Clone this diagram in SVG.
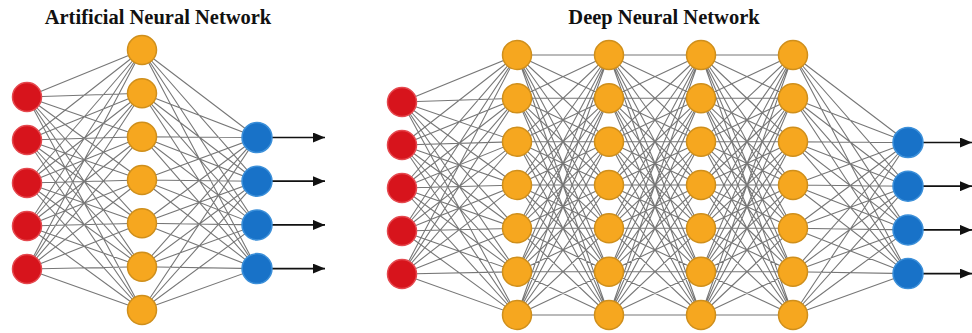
<svg xmlns="http://www.w3.org/2000/svg" xmlns:xlink="http://www.w3.org/1999/xlink" width="972" height="333" viewBox="0 0 972 333">
  <style>
    .title { font-family: "Liberation Serif", "Times New Roman", serif; font-weight: bold; font-size: 20.5px; fill: #111111; text-anchor: middle; }
    .edges { fill: none; stroke: #777777; stroke-width: 1.1; }
    .out { stroke: #111111; stroke-width: 1.7; marker-end: url(#arrow); }
    .in { fill: #d7141c; stroke: #e5484e; stroke-width: 1.5; }
    .hid { fill: #f6a71f; stroke: #cf8f1c; stroke-width: 1.5; }
    .res { fill: #1872c8; stroke: #3b8fd9; stroke-width: 1.5; }
  </style>
  <defs>
    <marker id="arrow" markerUnits="userSpaceOnUse" markerWidth="12" markerHeight="10" refX="12" refY="5" orient="auto">
      <path d="M0 0L12 5L0 10z" fill="#111"/>
    </marker>
    <!-- 5 input nodes to a column of 7 (input column at x=0, hidden column at x=115) -->
    <path id="fanIn" d="M0 47L115 0M0 47L115 43.3M0 47L115 86.7M0 47L115 130M0 47L115 173.3M0 47L115 216.7M0 47L115 260
      M0 90L115 0M0 90L115 43.3M0 90L115 86.7M0 90L115 130M0 90L115 173.3M0 90L115 216.7M0 90L115 260
      M0 133L115 0M0 133L115 43.3M0 133L115 86.7M0 133L115 130M0 133L115 173.3M0 133L115 216.7M0 133L115 260
      M0 176L115 0M0 176L115 43.3M0 176L115 86.7M0 176L115 130M0 176L115 173.3M0 176L115 216.7M0 176L115 260
      M0 219L115 0M0 219L115 43.3M0 219L115 86.7M0 219L115 130M0 219L115 173.3M0 219L115 216.7M0 219L115 260"/>
    <!-- fully connected 7 to 7 between neighbouring hidden columns -->
    <path id="mesh" d="M0 0L92 0M0 0L92 43.3M0 0L92 86.7M0 0L92 130M0 0L92 173.3M0 0L92 216.7M0 0L92 260
      M0 43.3L92 0M0 43.3L92 43.3M0 43.3L92 86.7M0 43.3L92 130M0 43.3L92 173.3M0 43.3L92 216.7M0 43.3L92 260
      M0 86.7L92 0M0 86.7L92 43.3M0 86.7L92 86.7M0 86.7L92 130M0 86.7L92 173.3M0 86.7L92 216.7M0 86.7L92 260
      M0 130L92 0M0 130L92 43.3M0 130L92 86.7M0 130L92 130M0 130L92 173.3M0 130L92 216.7M0 130L92 260
      M0 173.3L92 0M0 173.3L92 43.3M0 173.3L92 86.7M0 173.3L92 130M0 173.3L92 173.3M0 173.3L92 216.7M0 173.3L92 260
      M0 216.7L92 0M0 216.7L92 43.3M0 216.7L92 86.7M0 216.7L92 130M0 216.7L92 173.3M0 216.7L92 216.7M0 216.7L92 260
      M0 260L92 0M0 260L92 43.3M0 260L92 86.7M0 260L92 130M0 260L92 173.3M0 260L92 216.7M0 260L92 260"/>
    <!-- column of 7 to the 4 output nodes -->
    <path id="fanOut" d="M0 0L115 87.5M0 0L115 131.2M0 0L115 174.9M0 0L115 218.6
      M0 43.3L115 87.5M0 43.3L115 131.2M0 43.3L115 174.9M0 43.3L115 218.6
      M0 86.7L115 87.5M0 86.7L115 131.2M0 86.7L115 174.9M0 86.7L115 218.6
      M0 130L115 87.5M0 130L115 131.2M0 130L115 174.9M0 130L115 218.6
      M0 173.3L115 87.5M0 173.3L115 131.2M0 173.3L115 174.9M0 173.3L115 218.6
      M0 216.7L115 87.5M0 216.7L115 131.2M0 216.7L115 174.9M0 216.7L115 218.6
      M0 260L115 87.5M0 260L115 131.2M0 260L115 174.9M0 260L115 218.6"/>
  </defs>

  <rect width="972" height="333" fill="#ffffff"/>

  <text class="title" x="158" y="24">Artificial Neural Network</text>
  <text class="title" x="664" y="24">Deep Neural Network</text>

  <g id="connectors">
    <g class="edges">
      <use href="#fanIn" xlink:href="#fanIn" transform="translate(27,50)"/>
      <use href="#fanOut" xlink:href="#fanOut" transform="translate(142,50)"/>
      <use href="#fanIn" xlink:href="#fanIn" transform="translate(402,55)"/>
      <use href="#mesh" xlink:href="#mesh" transform="translate(517,55)"/>
      <use href="#mesh" xlink:href="#mesh" transform="translate(609,55)"/>
      <use href="#mesh" xlink:href="#mesh" transform="translate(701,55)"/>
      <use href="#fanOut" xlink:href="#fanOut" transform="translate(793,55)"/>
    </g>
    <g id="outputs">
      <line class="out" x1="272" y1="137.5" x2="325" y2="137.5"/>
      <line class="out" x1="272" y1="181.2" x2="325" y2="181.2"/>
      <line class="out" x1="272" y1="224.9" x2="325" y2="224.9"/>
      <line class="out" x1="272" y1="268.6" x2="325" y2="268.6"/>
      <line class="out" x1="923" y1="142.5" x2="972" y2="142.5"/>
      <line class="out" x1="923" y1="186.2" x2="972" y2="186.2"/>
      <line class="out" x1="923" y1="229.9" x2="972" y2="229.9"/>
      <line class="out" x1="923" y1="273.6" x2="972" y2="273.6"/>
    </g>
  </g>

  <!-- shallow network -->
  <g id="ann-in-1"><circle class="in" cx="27" cy="97" r="14.5"/></g>
  <g id="ann-in-2"><circle class="in" cx="27" cy="140" r="14.5"/></g>
  <g id="ann-in-3"><circle class="in" cx="27" cy="183" r="14.5"/></g>
  <g id="ann-in-4"><circle class="in" cx="27" cy="226" r="14.5"/></g>
  <g id="ann-in-5"><circle class="in" cx="27" cy="269" r="14.5"/></g>

  <g id="ann-h-1"><circle class="hid" cx="142" cy="50" r="14.5"/></g>
  <g id="ann-h-2"><circle class="hid" cx="142" cy="93.3" r="14.5"/></g>
  <g id="ann-h-3"><circle class="hid" cx="142" cy="136.7" r="14.5"/></g>
  <g id="ann-h-4"><circle class="hid" cx="142" cy="180" r="14.5"/></g>
  <g id="ann-h-5"><circle class="hid" cx="142" cy="223.3" r="14.5"/></g>
  <g id="ann-h-6"><circle class="hid" cx="142" cy="266.7" r="14.5"/></g>
  <g id="ann-h-7"><circle class="hid" cx="142" cy="310" r="14.5"/></g>

  <g id="ann-out-1"><circle class="res" cx="257" cy="137.5" r="15"/></g>
  <g id="ann-out-2"><circle class="res" cx="257" cy="181.2" r="15"/></g>
  <g id="ann-out-3"><circle class="res" cx="257" cy="224.9" r="15"/></g>
  <g id="ann-out-4"><circle class="res" cx="257" cy="268.6" r="15"/></g>

  <!-- deep network -->
  <g id="dnn-in-1"><circle class="in" cx="402" cy="102" r="14.5"/></g>
  <g id="dnn-in-2"><circle class="in" cx="402" cy="145" r="14.5"/></g>
  <g id="dnn-in-3"><circle class="in" cx="402" cy="188" r="14.5"/></g>
  <g id="dnn-in-4"><circle class="in" cx="402" cy="231" r="14.5"/></g>
  <g id="dnn-in-5"><circle class="in" cx="402" cy="274" r="14.5"/></g>

  <g id="dnn-h1-1"><circle class="hid" cx="517" cy="55" r="14.5"/></g>
  <g id="dnn-h1-2"><circle class="hid" cx="517" cy="98.3" r="14.5"/></g>
  <g id="dnn-h1-3"><circle class="hid" cx="517" cy="141.7" r="14.5"/></g>
  <g id="dnn-h1-4"><circle class="hid" cx="517" cy="185" r="14.5"/></g>
  <g id="dnn-h1-5"><circle class="hid" cx="517" cy="228.3" r="14.5"/></g>
  <g id="dnn-h1-6"><circle class="hid" cx="517" cy="271.7" r="14.5"/></g>
  <g id="dnn-h1-7"><circle class="hid" cx="517" cy="315" r="14.5"/></g>

  <g id="dnn-h2-1"><circle class="hid" cx="609" cy="55" r="14.5"/></g>
  <g id="dnn-h2-2"><circle class="hid" cx="609" cy="98.3" r="14.5"/></g>
  <g id="dnn-h2-3"><circle class="hid" cx="609" cy="141.7" r="14.5"/></g>
  <g id="dnn-h2-4"><circle class="hid" cx="609" cy="185" r="14.5"/></g>
  <g id="dnn-h2-5"><circle class="hid" cx="609" cy="228.3" r="14.5"/></g>
  <g id="dnn-h2-6"><circle class="hid" cx="609" cy="271.7" r="14.5"/></g>
  <g id="dnn-h2-7"><circle class="hid" cx="609" cy="315" r="14.5"/></g>

  <g id="dnn-h3-1"><circle class="hid" cx="701" cy="55" r="14.5"/></g>
  <g id="dnn-h3-2"><circle class="hid" cx="701" cy="98.3" r="14.5"/></g>
  <g id="dnn-h3-3"><circle class="hid" cx="701" cy="141.7" r="14.5"/></g>
  <g id="dnn-h3-4"><circle class="hid" cx="701" cy="185" r="14.5"/></g>
  <g id="dnn-h3-5"><circle class="hid" cx="701" cy="228.3" r="14.5"/></g>
  <g id="dnn-h3-6"><circle class="hid" cx="701" cy="271.7" r="14.5"/></g>
  <g id="dnn-h3-7"><circle class="hid" cx="701" cy="315" r="14.5"/></g>

  <g id="dnn-h4-1"><circle class="hid" cx="793" cy="55" r="14.5"/></g>
  <g id="dnn-h4-2"><circle class="hid" cx="793" cy="98.3" r="14.5"/></g>
  <g id="dnn-h4-3"><circle class="hid" cx="793" cy="141.7" r="14.5"/></g>
  <g id="dnn-h4-4"><circle class="hid" cx="793" cy="185" r="14.5"/></g>
  <g id="dnn-h4-5"><circle class="hid" cx="793" cy="228.3" r="14.5"/></g>
  <g id="dnn-h4-6"><circle class="hid" cx="793" cy="271.7" r="14.5"/></g>
  <g id="dnn-h4-7"><circle class="hid" cx="793" cy="315" r="14.5"/></g>

  <g id="dnn-out-1"><circle class="res" cx="908" cy="142.5" r="15"/></g>
  <g id="dnn-out-2"><circle class="res" cx="908" cy="186.2" r="15"/></g>
  <g id="dnn-out-3"><circle class="res" cx="908" cy="229.9" r="15"/></g>
  <g id="dnn-out-4"><circle class="res" cx="908" cy="273.6" r="15"/></g>
</svg>
